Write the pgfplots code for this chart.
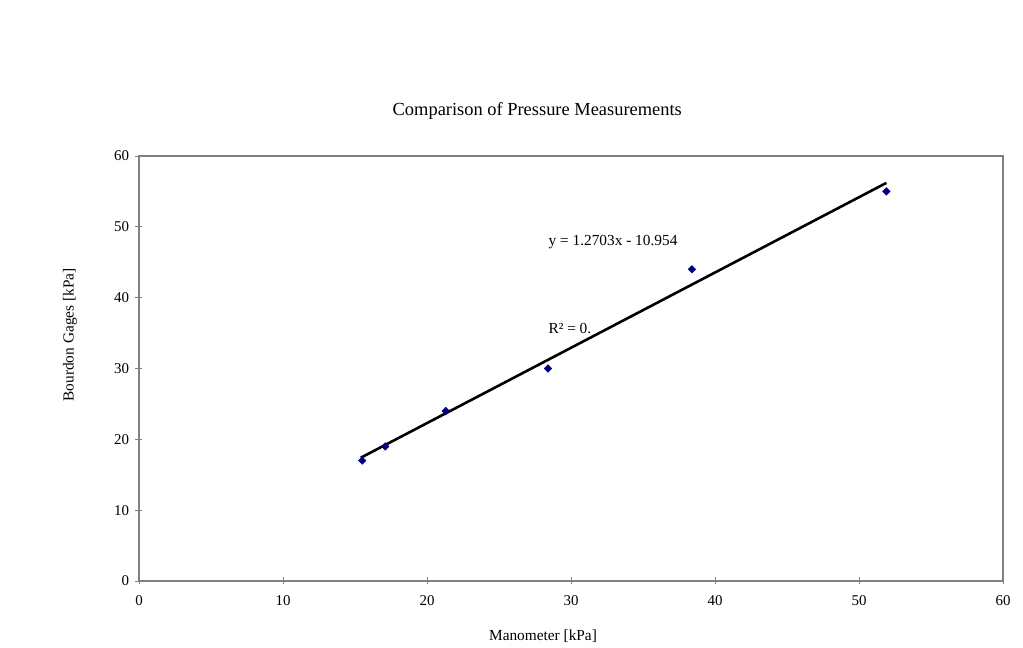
\documentclass[border=0pt]{standalone}
\usepackage{fontspec}
\setmainfont{Liberation Serif}
\usepackage{pgfplots}
\pgfplotsset{compat=1.18}
\definecolor{axgray}{RGB}{128,128,128}
\definecolor{navy}{RGB}{0,0,128}
\begin{document}
\begin{tikzpicture}[x=1bp,y=1bp]
\useasboundingbox (-139,-67) rectangle (884,581);
\begin{axis}[
  at={(0,0)}, anchor=south west,
  scale only axis,
  width=864bp, height=425bp,
  xmin=0, xmax=60, ymin=0, ymax=60,
  xtick={0,10,...,60}, ytick={0,10,...,60},
  axis line style={axgray, line width=1.2bp},
  tick style={axgray, line width=0.8bp},
  tick align=center,
  major tick length=7bp,
  xtick pos=bottom, ytick pos=left,
  /pgf/number format/assume math mode=true,
  tick label style={font=\fontsize{15}{18}\selectfont, black},
  xticklabel style={yshift=-8bp},
  yticklabel style={xshift=-3bp},
  title={Comparison of Pressure Measurements},
  title style={font=\fontsize{18.5}{22}\selectfont, at={(rel axis cs:0.461,1)}, anchor=center, yshift=39bp},
  xlabel={Manometer [kPa]},
  xlabel style={font=\fontsize{15.4}{18}\selectfont, at={(axis description cs:0.4676,-0.1294)}, anchor=center},
  ylabel={Bourdon Gages [kPa]},
  ylabel style={font=\fontsize{15.4}{18}\selectfont, at={(axis description cs:-0.0799,0.579)}, anchor=center},
  clip=false,
]
\addplot[only marks, mark=square*, mark size=2.7bp, navy, mark options={fill=navy, draw=navy, rotate=45}] coordinates {
  (15.5,17) (17.1,19) (21.3,24) (28.4,30) (38.4,44) (51.9,55)
};
\addplot[black, line width=2.6bp, no marks] coordinates {
  (15.4,17.4) (51.9,56.2)
};
\node[anchor=west, font=\fontsize{15.4}{18}\selectfont] at (axis cs:28.2,47.8) {y = 1.2703x - 10.954};
\node[anchor=west, font=\fontsize{15.4}{18}\selectfont] at (axis cs:28.2,35.7) {R² = 0.};
\end{axis}
\end{tikzpicture}
\end{document}
